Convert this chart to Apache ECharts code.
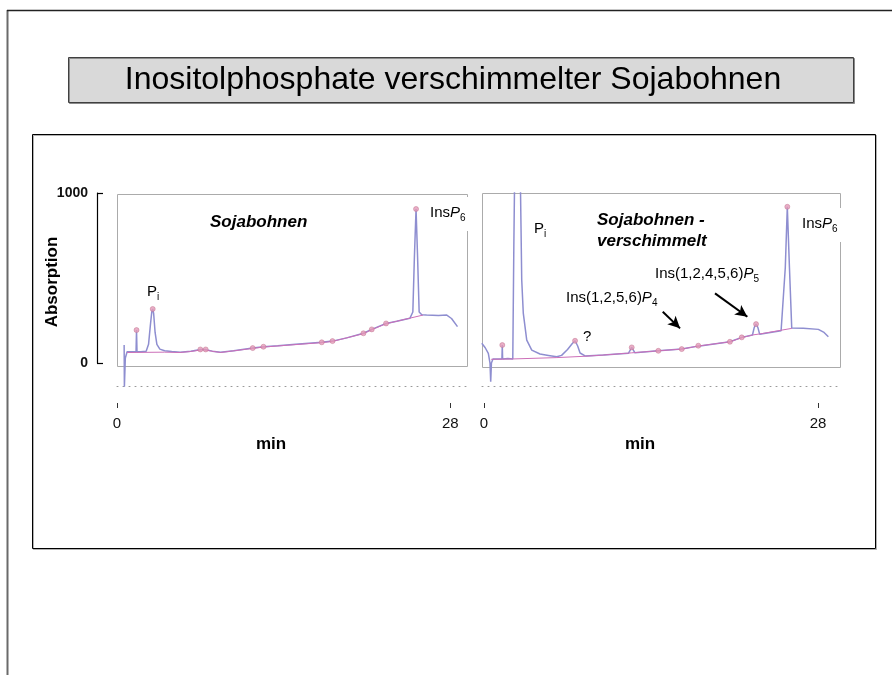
<!DOCTYPE html>
<html><head><meta charset="utf-8">
<script src="https://cdn.jsdelivr.net/npm/echarts@6/dist/echarts.min.js"></script>
<style>html,body{margin:0;padding:0;background:#fff}#c{width:892px;height:675px}</style>
</head><body><div id="c"></div>
<script>
// ---------- data (minutes, absorption units) ----------
const xTicks = [0, 28];
const yTicks = [0, 1000];

// Sojabohnen (left chromatogram)
const leftTime   = [0.6, 0.62, 0.7, 0.85, 1.2, 1.6, 1.64, 1.68, 2.0, 2.45, 2.65, 2.8, 2.92, 3.0, 3.08, 3.2, 3.35, 3.6, 4.0, 4.6, 5.3, 6.2, 7.0, 7.4, 8.0, 8.7, 9.8, 11.4, 12.3, 13.5, 15.0, 17.2, 18.1, 19.3, 20.7, 21.4, 22.6, 23.5, 24.6, 24.85, 24.98, 25.12, 25.25, 25.38, 25.6, 26.0, 27.0, 27.7, 28.1, 28.6];
const leftSignal = [106, -141, 30, 66, 66, 66, 194, 66, 67, 70, 110, 220, 300, 318, 290, 180, 110, 82, 72, 68, 64, 70, 80, 80, 70, 64, 72, 88, 96, 102, 110, 122, 129, 148, 175, 198, 233, 246, 263, 300, 620, 906, 620, 300, 284, 282, 280, 282, 262, 214];
const leftBaseTime  = [0.85, 4.0, 5.3, 6.2, 7.2, 8.7, 11.4, 12.3, 17.2, 18.1, 20.7, 21.4, 22.6, 25.7];
const leftBaseValue = [62, 64, 62, 68, 78, 62, 86, 94, 120, 127, 173, 196, 231, 282];
const leftPeakTime  = [1.64, 3.0, 7.0, 7.45, 11.4, 12.3, 17.2, 18.1, 20.7, 21.4, 22.6, 25.12];
const leftPeakValue = [194, 318, 80, 80, 88, 96, 122, 129, 175, 198, 233, 906];

// Sojabohnen - verschimmelt (right chromatogram)
const rightTime   = [-0.19, 0.1, 0.36, 0.5, 0.56, 0.62, 0.75, 1.2, 1.5, 1.53, 1.56, 2.0, 2.41, 2.5, 2.6, 2.8, 3.0, 3.1, 3.16, 3.29, 3.58, 4.0, 4.69, 5.4, 6.09, 6.5, 7.0, 7.4, 7.63, 7.85, 8.05, 8.47, 10.0, 12.1, 12.38, 12.65, 14.61, 16.57, 17.8, 17.96, 18.1, 20.61, 21.6, 22.5, 22.65, 22.8, 22.95, 23.1, 24.0, 24.9, 25.06, 25.25, 25.42, 25.6, 25.79, 26.76, 28.02, 28.5, 28.86];
const rightSignal = [116, 90, 57, 0, -110, 0, 24, 24, 24, 106, 24, 26, 24, 700, 1300, 1600, 1300, 800, 488, 294, 135, 76, 53, 45, 37, 45, 80, 115, 131, 100, 59, 42, 47, 57, 92, 60, 72, 82, 98, 102, 100, 125, 151, 165, 210, 229, 210, 170, 180, 190, 194, 560, 919, 560, 206, 204, 198, 180, 155];
const rightBaseTime  = [0.6, 2.4, 6.1, 8.5, 10.0, 12.38, 14.61, 16.57, 17.96, 20.61, 21.6, 22.5, 23.2, 25.8];
const rightBaseValue = [22, 24, 32, 40, 47, 60, 72, 82, 100, 125, 149, 165, 172, 204];
const rightPeakTime  = [1.53, 7.63, 12.38, 14.61, 16.57, 17.96, 20.61, 21.6, 22.8, 25.42];
const rightPeakValue = [106, 131, 92, 72, 82, 102, 125, 151, 229, 919];

// annotation arrows (data coordinates, right chart): [fromX, fromY, toX, toY]
const arrowP4 = [14.98, 302, 16.43, 204];
const arrowP5 = [19.36, 410, 22.07, 272];

// ---------- chart ----------
const zip = (a, b) => a.map((v, i) => [v, b[i]]);
const FONT = 'Liberation Sans, Arial, sans-serif';
const traceColor = '#8e8ed0';
const baseColor = '#cc6fb8';
const markColor = '#e39ab8';

function dataAxes(grid, min, max) {
  return [
    { type: 'value', gridIndex: grid, min: min, max: max, position: 'bottom',
      axisLine: { show: true, onZero: false, lineStyle: { type: [1, 5], color: '#999', width: 1 } },
      axisTick: { show: false }, axisLabel: { show: false }, splitLine: { show: false } },
    { type: 'value', gridIndex: grid, min: min, max: max, position: 'bottom', offset: 17,
      axisLine: { show: false, onZero: false },
      axisTick: { show: true, customValues: xTicks, length: 5, lineStyle: { color: '#333' } },
      axisLabel: { show: true, customValues: xTicks, margin: 13, fontSize: 15, color: '#111', fontFamily: FONT },
      splitLine: { show: false } }
  ];
}

const chart = echarts.init(document.getElementById('c'));
const xAxes = [].concat(dataAxes(0, 0, 29.4), dataAxes(1, -0.17, 29.92),
  [{ type: 'value', gridIndex: 2, show: false, min: 0, max: 1 }]);

function txt(x, y, text, font, rich, extra, elExtra) {
  return Object.assign({ type: 'text', x: x, y: y, z: 5,
    style: Object.assign({ text: text, font: font, fill: '#000', textAlign: 'left', textVerticalAlign: 'middle',
      align: 'left', verticalAlign: 'middle', rich: rich }, extra || {}) }, elExtra || {});
}
const subRich = {
  n: { fontSize: 15, fontFamily: FONT, color: '#111' },
  i: { fontSize: 15, fontFamily: FONT, fontStyle: 'italic', color: '#111' },
  s: { fontSize: 10, fontFamily: FONT, color: '#111', padding: [10, 0, 0, 0] }
};

chart.setOption({
  animation: false,
  textStyle: { fontFamily: FONT },
  grid: [
    { left: 117, top: 193, width: 350, height: 193 },
    { left: 482, top: 193, width: 359, height: 193 },
    { left: 97, top: 193, width: 1, height: 170 }
  ],
  xAxis: xAxes,
  yAxis: [
    { type: 'value', gridIndex: 0, min: -135, max: 1000, show: false },
    { type: 'value', gridIndex: 1, min: -135, max: 1000, show: false },
    { type: 'value', gridIndex: 2, min: yTicks[0], max: yTicks[1], interval: 1000, position: 'left',
      axisLine: { show: true, lineStyle: { color: '#000', width: 1.2 } },
      axisTick: { show: true, inside: true, length: 6, lineStyle: { color: '#000', width: 1.2 } },
      axisLabel: { margin: 9, fontSize: 14, fontWeight: 'bold', color: '#111', formatter: v => String(v) },
      splitLine: { show: false } }
  ],
  series: [
    { type: 'line', xAxisIndex: 0, yAxisIndex: 0, data: zip(leftTime, leftSignal), showSymbol: false, clip: true,
      lineStyle: { color: traceColor, width: 1.5 }, z: 3 },
    { type: 'line', xAxisIndex: 0, yAxisIndex: 0, data: zip(leftBaseTime, leftBaseValue), showSymbol: false,
      lineStyle: { color: baseColor, width: 1 }, z: 4 },
    { type: 'scatter', xAxisIndex: 0, yAxisIndex: 0, data: zip(leftPeakTime, leftPeakValue), symbolSize: 5,
      itemStyle: { color: markColor, borderColor: '#c0708e', borderWidth: 0.6 }, z: 5 },
    { type: 'line', xAxisIndex: 2, yAxisIndex: 1, data: zip(rightTime, rightSignal), showSymbol: false, clip: true,
      lineStyle: { color: traceColor, width: 1.5 }, z: 3 },
    { type: 'line', xAxisIndex: 2, yAxisIndex: 1, data: zip(rightBaseTime, rightBaseValue), showSymbol: false,
      lineStyle: { color: baseColor, width: 1 }, z: 4 },
    { type: 'scatter', xAxisIndex: 2, yAxisIndex: 1, data: zip(rightPeakTime, rightPeakValue), symbolSize: 5,
      itemStyle: { color: markColor, borderColor: '#c0708e', borderWidth: 0.6 }, z: 5,
      markLine: { silent: true, symbol: ['none', 'arrow'], symbolSize: [9, 12], label: { show: false },
        lineStyle: { color: '#000', width: 2, type: 'solid' },
        data: [
          [{ coord: [arrowP4[0], arrowP4[1]] }, { coord: [arrowP4[2], arrowP4[3]] }],
          [{ coord: [arrowP5[0], arrowP5[1]] }, { coord: [arrowP5[2], arrowP5[3]] }]
        ] } }
  ],
  graphic: [
    // page frame
    { type: 'line', shape: { x1: 7.5, y1: 10, x2: 7.5, y2: 675 }, style: { stroke: '#6a6a6a', lineWidth: 2 } },
    { type: 'line', shape: { x1: 7, y1: 10.5, x2: 892, y2: 10.5 }, style: { stroke: '#222', lineWidth: 1.5 } },
    // title box
    { type: 'rect', shape: { x: 68.5, y: 57.5, width: 785, height: 45 },
      style: { fill: '#d9d9d9', stroke: '#404040', lineWidth: 1, shadowColor: 'rgba(0,0,0,0.35)', shadowOffsetX: 1, shadowOffsetY: 1 } },
    txt(453, 80, 'Inositolphosphate verschimmelter Sojabohnen', '32px ' + FONT, null,
      { textAlign: 'center', align: 'center' }),
    // panel
    { type: 'rect', shape: { x: 32.5, y: 134.5, width: 843, height: 414 },
      style: { fill: 'transparent', stroke: '#000', lineWidth: 1, shadowColor: 'rgba(0,0,0,0.3)', shadowOffsetX: 1, shadowOffsetY: 1 } },
    // chart frames
    { type: 'rect', z: 0, shape: { x: 117.5, y: 194.5, width: 350, height: 172 }, style: { fill: 'transparent', stroke: '#ababab', lineWidth: 1 } },
    { type: 'rect', z: 0, shape: { x: 482.5, y: 193.5, width: 358, height: 174 }, style: { fill: 'transparent', stroke: '#ababab', lineWidth: 1 } },
    // axis titles
    txt(52, 282, 'Absorption', 'bold 17px ' + FONT, null, { textAlign: 'center', align: 'center' }, { rotation: Math.PI / 2 }),
    txt(271, 444, 'min', 'bold 17px ' + FONT, null, { textAlign: 'center', align: 'center' }),
    txt(640, 444, 'min', 'bold 17px ' + FONT, null, { textAlign: 'center', align: 'center' }),
    // left annotations
    txt(210, 222, 'Sojabohnen', 'italic bold 17px ' + FONT),
    txt(147, 292, '{n|P}{s|i}', '15px ' + FONT, subRich),
    txt(428, 214, '{n|Ins}{i|P}{s|6}', '15px ' + FONT, subRich, { backgroundColor: '#fff', padding: [6, 14, 8, 2] }),
    // right annotations
    txt(534, 229, '{n|P}{s|i}', '15px ' + FONT, subRich),
    txt(597, 220, 'Sojabohnen -', 'italic bold 17px ' + FONT),
    txt(597, 241, 'verschimmelt', 'italic bold 17px ' + FONT),
    txt(655, 274, '{n|Ins(1,2,4,5,6)}{i|P}{s|5}', '15px ' + FONT, subRich),
    txt(566, 298, '{n|Ins(1,2,5,6)}{i|P}{s|4}', '15px ' + FONT, subRich),
    txt(583, 337, '?', '15px ' + FONT),
    txt(800, 225, '{n|Ins}{i|P}{s|6}', '15px ' + FONT, subRich, { backgroundColor: '#fff', padding: [6, 6, 8, 2] })
  ]
});
</script></body></html>
